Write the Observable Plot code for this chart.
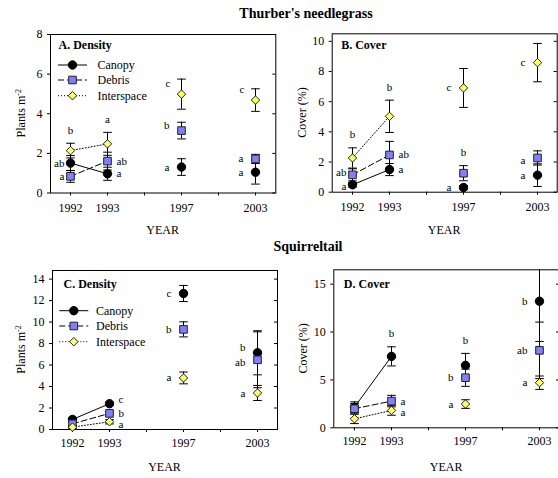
<!DOCTYPE html>
<html><head><meta charset="utf-8">
<script src="https://cdn.jsdelivr.net/npm/d3@7"></script>
<script src="https://cdn.jsdelivr.net/npm/@observablehq/plot@0.6"></script>
<style>
html,body{margin:0;padding:0;background:#fff;overflow:hidden}
#root{position:relative;width:558px;height:478px;font-family:"Liberation Serif","Times New Roman",Times,serif;overflow:hidden;background:#fff}
#root svg, #root svg text, #root svg tspan{font-family:"Liberation Serif","Times New Roman",Times,serif !important}
.title{position:absolute;font-weight:bold;font-size:14px;transform:translate(-50%,-50%);white-space:nowrap;color:#000}
.panel{position:absolute}
</style></head><body><div id="root"></div>
<script>
// ---------- data ----------
const tickYears = ["1992","1993","1995","1997","2000","2003"];
const labeledYears = ["1992","1993","1997","2003"];
const years = ["1992","1993","1997","2003"];
const seriesNames = ["Canopy","Debris","Interspace"];

// A. Thurber's needlegrass density (plants m-2)
const aCanopy = [1.51, 0.97, 1.31, 1.05];
const aCanopySE = [0.38, 0.33, 0.42, 0.60];
const aDebris = [0.84, 1.61, 3.15, 1.72];
const aDebrisSE = [0.30, 0.45, 0.42, 0.23];
const aInter = [2.14, 2.48, 4.99, 4.69];
const aInterSE = [0.37, 0.58, 0.76, 0.57];
const aLetters = [
  ["1992","Interspace","b","above"],["1992","Canopy","ab","near-left"],["1992","Debris","a","near-left"],
  ["1993","Interspace","a","above"],["1993","Debris","ab","right"],["1993","Canopy","a","right"],
  ["1997","Interspace","c","upper-left"],["1997","Debris","b","left-up"],["1997","Canopy","a","left"],
  ["2003","Interspace","c","upper-left"],["2003","Debris","a","left"],["2003","Canopy","a","left"]
];

// B. Thurber's needlegrass cover (%)
const bCanopy = [0.49, 1.50, 0.31, 1.13];
const bCanopySE = [0.15, 0.40, 0.12, 0.75];
const bDebris = [1.15, 2.47, 1.26, 2.27];
const bDebrisSE = [0.40, 0.90, 0.50, 0.47];
const bInter = [2.27, 5.03, 6.91, 8.59];
const bInterSE = [0.67, 1.07, 1.29, 1.27];
const bLetters = [
  ["1992","Interspace","b","above"],["1992","Debris","ab","near-left-up"],["1992","Canopy","a","near-left-down"],
  ["1993","Interspace","b","above"],["1993","Debris","ab","right"],["1993","Canopy","a","right"],
  ["1997","Interspace","c","left"],["1997","Debris","b","above"],["1997","Canopy","a","left"],
  ["2003","Interspace","c","left"],["2003","Debris","a","left-down"],["2003","Canopy","a","left"]
];

// C. Squirreltail density (plants m-2)
const cCanopy = [0.94, 2.40, 12.66, 7.14];
const cCanopySE = [0.15, 0.15, 0.75, 2.05];
const cDebris = [0.53, 1.50, 9.32, 6.49];
const cDebrisSE = [0.20, 0.15, 0.70, 2.60];
const cInter = [0.22, 0.72, 4.80, 3.40];
const cInterSE = [0.15, 0.20, 0.55, 0.70];
const cLetters = [
  ["1993","Canopy","c","right-up"],["1993","Debris","b","right"],["1993","Interspace","a","right-down"],
  ["1997","Canopy","c","left"],["1997","Debris","b","left"],["1997","Interspace","a","left"],
  ["2003","Canopy","b","left-up"],["2003","Debris","ab","left-down"],["2003","Interspace","a","left"]
];

// D. Squirreltail cover (%)
const dCanopy = [2.16, 7.46, 6.52, 13.22];
const dCanopySE = [0.55, 1.00, 1.25, 4.20];
const dDebris = [1.99, 2.79, 5.23, 8.09];
const dDebrisSE = [0.55, 0.60, 0.90, 2.95];
const dInter = [0.94, 1.81, 2.48, 4.71];
const dInterSE = [0.50, 0.50, 0.45, 0.70];
const dLetters = [
  ["1993","Canopy","b","above"],["1993","Debris","a","right"],["1993","Interspace","a","right-down"],
  ["1997","Canopy","b","above"],["1997","Debris","b","left"],["1997","Interspace","a","left"],
  ["2003","Canopy","b","left"],["2003","Debris","ab","left"],["2003","Interspace","a","left"]
];

const aTicks = [0,2,4,6,8];
const bTicks = [0,2,4,6,8,10];
const cTicks = [0,2,4,6,8,10,12,14];
const dTicks = [0,5,10,15];

// ---------- styling ----------
const FONT = "Liberation Serif, Times New Roman, Times, serif";
const style = {
  Canopy:     {symbol: "circle",   fill: "#000000", stroke: "#000000", r: 4.2, dash: null},
  Debris:     {symbol: "square",   fill: "#7f7fff", stroke: "#222222", r: 4.3, dash: "6,3"},
  Interspace: {symbol: "diamond2", fill: "#ffff66", stroke: "#222222", r: 3.8, dash: "1,2"}
};
// label placement offsets (px) relative to the point or the top of its error bar
const placements = {
  "left":           {dx: -12, dy: 0,   anchor: "end"},
  "near-left":      {dx: -6,  dy: 0,   anchor: "end"},
  "near-left-up":   {dx: -6,  dy: -2,  anchor: "end"},
  "near-left-down": {dx: -6,  dy: 1.5, anchor: "end"},
  "left-up":        {dx: -12, dy: -5,  anchor: "end"},
  "left-down":      {dx: -12, dy: 3,   anchor: "end"},
  "upper-left":     {dx: -11, dy: -11, anchor: "end"},
  "right":          {dx: 9,   dy: 0,   anchor: "start"},
  "right-up":       {dx: 9,   dy: -4,  anchor: "start"},
  "right-down":     {dx: 9,   dy: 2.5, anchor: "start"},
  "above":          {dx: 0,   dy: -13, anchor: "middle", top: true}
};
const d3Sym = {circle: d3.symbolCircle, square: d3.symbolSquare, diamond2: d3.symbolDiamond2};
const capSymbol = {draw(ctx, size) { const r = Math.sqrt(size / Math.PI); ctx.moveTo(-r, 0); ctx.lineTo(r, 0); }};

function table(means, ses) {
  const out = [];
  seriesNames.forEach((s, i) => {
    years.forEach((y, j) => out.push({series: s, year: y, mean: means[i][j], se: ses[i][j]}));
  });
  return out;
}

function makePanel(cfg) {
  const data = table(cfg.means, cfg.ses);
  const plotW = cfg.width - cfg.ml - cfg.mr;
  const labels = cfg.letters.map(([year, series, text, place]) => {
    const d = data.find(e => e.year === year && e.series === series);
    return {year, series, text, place, mean: d.mean, se: d.se};
  });
  const marks = [
    Plot.frame({stroke: "#000", strokeWidth: 1}),
    Plot.axisX({ticks: tickYears, tickFormat: d => labeledYears.includes(d) ? d : "", tickSize: 3, tickPadding: cfg.xPad, label: null, fontSize: 12}),
    Plot.axisY({ticks: cfg.ticks, tickSize: 3, tickPadding: 5, label: null, fontSize: 12}),
    Plot.ruleY(cfg.ticks, {insetLeft: plotW - 3, stroke: "#000"}),
    Plot.text([cfg.title], {frameAnchor: "top-left", dx: cfg.titleDx, dy: cfg.titleDy, text: d => d, fontWeight: "bold", fontSize: 12, textAnchor: "start", lineAnchor: "middle"})
  ];
  // connecting lines for 1992-1993
  seriesNames.forEach(s => {
    marks.push(Plot.line(data.filter(d => d.series === s && (d.year === "1992" || d.year === "1993")),
      {x: "year", y: "mean", stroke: "#000", strokeWidth: 1, strokeDasharray: style[s].dash || undefined}));
  });
  // error bars
  marks.push(Plot.ruleX(data, {x: "year", y1: d => d.mean - d.se, y2: d => d.mean + d.se, stroke: "#000", strokeWidth: 1, clip: "frame"}));
  marks.push(Plot.dot(data, {x: "year", y: d => d.mean + d.se, symbol: capSymbol, r: 4.3, stroke: "#000", fill: "none", strokeWidth: 1, clip: "frame"}));
  marks.push(Plot.dot(data, {x: "year", y: d => d.mean - d.se, symbol: capSymbol, r: 4.3, stroke: "#000", fill: "none", strokeWidth: 1, clip: "frame"}));
  // points
  seriesNames.forEach(s => {
    const st = style[s];
    marks.push(Plot.dot(data.filter(d => d.series === s), {x: "year", y: "mean", symbol: st.symbol, r: st.r, fill: st.fill, stroke: st.stroke, strokeWidth: 1}));
  });
  // significance letters
  Object.entries(placements).forEach(([name, p]) => {
    const sub = labels.filter(l => l.place === name);
    if (!sub.length) return;
    marks.push(Plot.text(sub, {x: "year", y: p.top ? (d => d.mean + d.se) : "mean", text: "text",
      dx: p.dx, dy: p.dy, textAnchor: p.anchor, fontSize: 11, fill: "#000"}));
  });
  // in-frame legend
  if (cfg.legend) {
    marks.push((index, scales, values, dims) => {
      const g = d3.create("svg:g").attr("font-size", 12).attr("font-family", FONT).attr("text-anchor", "start");
      seriesNames.forEach((s, i) => {
        const st = style[s];
        const y = dims.marginTop + cfg.legend.rows[i];
        const x0 = dims.marginLeft + cfg.legend.x0, x1 = dims.marginLeft + cfg.legend.x1;
        g.append("line").attr("x1", x0).attr("x2", x1).attr("y1", y).attr("y2", y)
          .attr("stroke", "#000").attr("stroke-dasharray", st.dash);
        g.append("path").attr("transform", `translate(${(x0 + x1) / 2},${y})`)
          .attr("d", d3.symbol(d3Sym[st.symbol], st.r * st.r * Math.PI)())
          .attr("fill", st.fill).attr("stroke", st.stroke);
        g.append("text").attr("x", dims.marginLeft + cfg.legend.tx).attr("y", y).attr("dy", "0.32em")
          .attr("text-anchor", "start").attr("fill", "#000").text(s);
      });
      return g.node();
    });
  }
  const svg = Plot.plot({
    width: cfg.width, height: cfg.height,
    marginLeft: cfg.ml, marginRight: cfg.mr, marginTop: cfg.mt, marginBottom: cfg.mb,
    x: {type: "point", domain: tickYears, padding: 0.5},
    y: {domain: [0, cfg.yMax]},
    style: {fontFamily: FONT, fontSize: "12px", background: "transparent", overflow: "visible", color: "#000"},
    marks
  });
  // axis titles
  const s = d3.select(svg);
  const cy = cfg.mt + (cfg.height - cfg.mt - cfg.mb) / 2;
  const yl = s.append("text").attr("transform", `translate(${cfg.yLabelX},${cy}) rotate(-90)`)
    .attr("text-anchor", "middle").attr("dy", "0.32em").attr("font-size", 12).attr("font-family", FONT).attr("fill", "#000");
  if (cfg.yLabelSup) {
    yl.append("tspan").text(cfg.yLabel);
    yl.append("tspan").attr("baseline-shift", "super").attr("font-size", 8).text(cfg.yLabelSup);
  } else yl.text(cfg.yLabel);
  s.append("text").attr("x", cfg.ml + plotW / 2).attr("y", cfg.xLabelY).attr("text-anchor", "middle")
    .attr("dy", "0.32em").attr("font-size", 12).attr("font-family", FONT).attr("fill", "#000").text("YEAR");
  svg.classList.add("panel");
  svg.style.left = cfg.left + "px";
  svg.style.top = cfg.top + "px";
  return svg;
}

const root = document.getElementById("root");
function addTitle(text, x, y) {
  const d = document.createElement("div");
  d.className = "title"; d.textContent = text;
  d.style.left = x + "px"; d.style.top = y + "px";
  root.appendChild(d);
}
addTitle("Thurber's needlegrass", 306, 14);
addTitle("Squirreltail", 308, 247);

root.appendChild(makePanel({
  left: 0, top: 0, width: 279, height: 239, ml: 50, mr: 3.7, mt: 34, mb: 46.5,
  means: [aCanopy, aDebris, aInter], ses: [aCanopySE, aDebrisSE, aInterSE],
  letters: aLetters, ticks: aTicks, yMax: 8, xPad: 7,
  title: "A. Density", titleDx: 8, titleDy: 11,
  legend: {rows: [31, 46, 61.7], x0: 8, x1: 37, tx: 47.5},
  yLabel: "Plants m", yLabelSup: "-2", yLabelX: 20.7, xLabelY: 230
}));
root.appendChild(makePanel({
  left: 279, top: 0, width: 279, height: 239, ml: 52.7, mr: 1.3, mt: 33.3, mb: 47.3,
  means: [bCanopy, bDebris, bInter], ses: [bCanopySE, bDebrisSE, bInterSE],
  letters: bLetters, ticks: bTicks, yMax: 10.5, xPad: 7,
  title: "B. Cover", titleDx: 9, titleDy: 11.7,
  yLabel: "Cover (%)", yLabelX: 22.7, xLabelY: 230
}));
root.appendChild(makePanel({
  left: 0, top: 239, width: 279, height: 239, ml: 52, mr: 2, mt: 31, mb: 49,
  means: [cCanopy, cDebris, cInter], ses: [cCanopySE, cDebrisSE, cInterSE],
  letters: cLetters, ticks: cTicks, yMax: 14.8, xPad: 6,
  title: "C. Density", titleDx: 11, titleDy: 13.3,
  legend: {rows: [40.7, 56, 71.7], x0: 7.3, x1: 36.3, tx: 44},
  yLabel: "Plants m", yLabelSup: "-2", yLabelX: 20.7, xLabelY: 228.3
}));
root.appendChild(makePanel({
  left: 279, top: 239, width: 283, height: 239, ml: 54.3, mr: 3, mt: 30.3, mb: 50.7,
  means: [dCanopy, dDebris, dInter], ses: [dCanopySE, dDebrisSE, dInterSE],
  letters: dLetters, ticks: dTicks, yMax: 16.5, xPad: 6,
  title: "D. Cover", titleDx: 10, titleDy: 14.7,
  yLabel: "Cover (%)", yLabelX: 24.3, xLabelY: 227.7
}));
</script></body></html>
